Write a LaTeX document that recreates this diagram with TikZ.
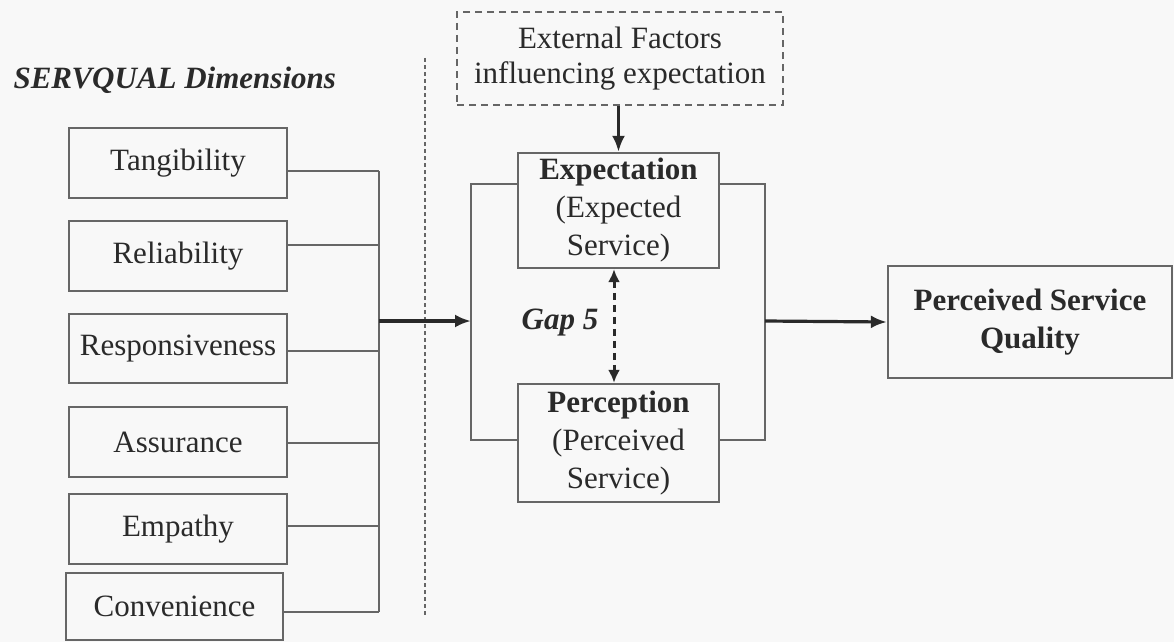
\documentclass[tikz,border=0pt]{standalone}
\usepackage{fontspec}
\setmainfont{Liberation Serif}
\usetikzlibrary{arrows.meta}
\definecolor{boxline}{HTML}{666666}
\definecolor{ink}{HTML}{2A2A2A}
\definecolor{paper}{HTML}{F8F8F8}
\begin{document}
\begin{tikzpicture}[x=1pt,y=-1pt,
  every node/.style={font=\fontsize{31}{38}\selectfont, text=ink},
  dimbox/.style={draw=boxline, line width=2.3pt, minimum width=218pt,
                 minimum height=70pt, inner sep=0pt},
  midbox/.style={draw=boxline, line width=2.3pt, minimum width=201pt,
                 inner sep=0pt, align=center},
  link/.style={draw=boxline, line width=2.3pt},
  flow/.style={draw=ink, line width=3.2pt,
               -{Latex[length=16pt,width=13pt]}},
  gap/.style={draw=ink, line width=3pt, dash pattern=on 7pt off 5pt,
              {Latex[length=13pt,width=12pt]}-{Latex[length=13pt,width=12pt]}}]

  % page
  \fill[paper] (0,0) rectangle (1174,642);
  \useasboundingbox (0,0) rectangle (1174,642);

  % title of the dimensions column
  \node[font=\fontsize{31}{38}\selectfont\bfseries\itshape, anchor=west]
    (title) at (10,80) {SERVQUAL Dimensions};

  % SERVQUAL dimensions
  \node[dimbox] (tan) at (178,163) {Tangibility};
  \node[dimbox] (rel) at (178,256) {Reliability};
  \node[dimbox, minimum height=69pt] (res) at (178,348.5) {Responsiveness};
  \node[dimbox] (ass) at (178,442) {Assurance};
  \node[dimbox] (emp) at (178,529) {Empathy};
  \node[dimbox, minimum width=217pt, minimum height=67pt] (con) at (174.5,606.5) {Convenience};

  % collecting bus
  \coordinate (bustop) at (379,171);
  \coordinate (busbot) at (379,612);
  \coordinate (busout) at (379,321);
  \draw[link] ([yshift=-8pt]tan.east) -- ([yshift=-8pt]tan.east -| bustop);
  \draw[link] ([yshift=11pt]rel.east) -- ([yshift=11pt]rel.east -| bustop);
  \draw[link] ([yshift=-2.5pt]res.east) -- ([yshift=-2.5pt]res.east -| bustop);
  \draw[link] ([yshift=-1pt]ass.east) -- ([yshift=-1pt]ass.east -| bustop);
  \draw[link] ([yshift=3pt]emp.east) -- ([yshift=3pt]emp.east -| bustop);
  \draw[link] ([yshift=-5.5pt]con.east) -- ([yshift=-5.5pt]con.east -| busbot);
  \draw[link] (bustop) -- (busbot);

  % separator
  \coordinate (septop) at (425,58);
  \coordinate (sepbot) at (425,615);
  \draw[boxline, line width=2.5pt, dash pattern=on 4pt off 3pt] (septop) -- (sepbot);

  % external factors
  \node[draw=boxline, line width=2.3pt, dash pattern=on 7pt off 5pt,
        minimum width=326pt, minimum height=93pt, inner sep=0pt, align=center,
        font=\fontsize{31}{35}\selectfont]
    (ext) at (620,58.5) {External Factors\\influencing expectation};

  % expectation and perception
  \node[midbox, minimum height=115pt] (exp) at (618.5,210.5)
    {\textbf{Expectation}\\(Expected\\Service)};
  \node[midbox, minimum height=118pt] (per) at (618.5,443)
    {\textbf{Perception}\\(Perceived\\Service)};

  \draw[flow] (ext.south -| exp.north) -- (exp.north);

  % loop around the two boxes
  \coordinate (loopin) at (471,321);
  \coordinate (loopout) at (765,321);
  \draw[link] ([yshift=26.5pt]exp.west) -| (loopin) |- ([yshift=3pt]per.west);
  \draw[link] ([yshift=26.5pt]exp.east) -| (loopout) |- ([yshift=3pt]per.east);

  \draw[flow] (busout) -- (loopin);

  % gap between expectation and perception
  \draw[gap] ([xshift=-4.5pt]exp.south) -- ([xshift=-4.5pt]per.north);
  \node[font=\fontsize{31}{38}\selectfont\bfseries\itshape] (gaplbl) at (560,323) {Gap 5};

  % result
  \node[draw=boxline, line width=2.3pt, minimum width=284pt, minimum height=112pt,
        inner sep=0pt, align=center, font=\fontsize{31}{38}\selectfont\bfseries]
    (psq) at (1030,322) {Perceived Service\\Quality};

  \draw[flow] (loopout) -- (psq.west);
\end{tikzpicture}
\end{document}
